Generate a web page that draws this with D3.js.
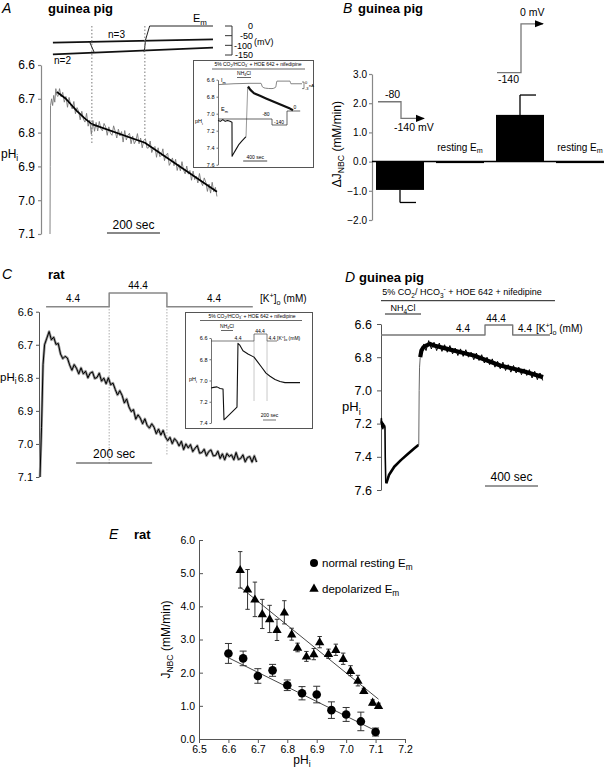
<!DOCTYPE html>
<html><head><meta charset="utf-8">
<script src="https://cdn.jsdelivr.net/npm/d3@7"></script>
<style>body{margin:0;background:#fff}svg{display:block}text{font-family:"Liberation Sans",Arial,sans-serif}</style>
</head><body><svg id="c" width="611" height="770"></svg>
<script>
// ---------------- DATA ----------------
// Panel A (guinea pig): pHi trace, time in s
const A_ticks = [6.6, 6.7, 6.8, 6.9, 7.0, 7.1];
const A_rise = [[0,7.10],[1,6.90],[2,6.72],[6,6.70],[10,6.72],[14,6.69],[18,6.71],[22,6.67],[26,6.69]];
const A_noisyStart = 30, A_noisyStep = 6;
const A_noisy = [6.693,6.670,6.694,6.681,6.710,6.693,6.725,6.696,6.719,6.730,6.708,6.744,6.726,6.737,6.762,6.737,
  6.760,6.769,6.743,6.781,6.763,6.805,6.764,6.796,6.770,6.795,6.767,6.789,6.795,6.773,6.783,6.808,6.783,6.802,6.808,
  6.780,6.796,6.816,6.790,6.810,6.797,6.828,6.794,6.822,6.808,6.802,6.833,6.810,6.833,6.824,6.803,6.833,6.816,6.845,
  6.823,6.818,6.846,6.845,6.825,6.859,6.846,6.841,6.873,6.845,6.871,6.868,6.848,6.883,6.866,6.861,6.897,6.888,6.875,
  6.898,6.879,6.912,6.894,6.913,6.886,6.911,6.922,6.899,6.923,6.912,6.941,6.914,6.939,6.929,6.949,6.921,6.946,6.957,
  6.934,6.947,6.974,6.952,6.979,6.947,6.975,6.962,6.989];
const A_fit = [[26,6.68],[60,6.70],[100,6.735],[130,6.757],[158,6.775],[358,6.83],[630,6.975]];
const A_steps = [158, 358];
const A_emUpper = [[11,-86],[615,-69]];
const A_emLower = [[11,-147],[615,-112]];
const A_emDown = [[150,-84],[168,-140]];
const A_emUp = [[355,-135],[360,-84]];
const A_emZero = [[358,-84],[376,0],[615,0]];
const A_mVticks = [0,-50,-100,-150];
// inset A
const IA_ticks = [6.6,6.8,7.0,7.2,7.4,7.6];
const IA_pH = [[0,7.08],[40,7.09],[80,7.07],[120,7.09],[160,7.08],[200,7.09],[233,7.10],[235,7.50],[250,7.48],[300,7.42],[350,7.36],[400,7.32],[467,7.27]];
const IA_jump = [[467,7.27],[495,6.69]];
const IA_after = [[500,6.68],[540,6.72],[600,6.76],[700,6.79],[800,6.82],[900,6.85],[1000,6.88],[1100,6.91],[1200,6.94],[1250,6.96]];
const IA_Em = [[0,-80],[900,-80],[900,-140],[1150,-140],[1150,0],[1370,0]];
const IA_Im = [[0,-1.2],[533,-0.6],[717,-0.6],[740,-2.2],[790,-2.8],[900,-3.0],[960,-2.4],[983,0.4],[1200,0.4],[1215,-0.8],[1400,-0.8]];

// Panel B (guinea pig) bars
const B_cats = ["-80 to -140", "resting 1", "-140 to 0", "resting 2"];
const B_vals = [-0.97, -0.02, 1.6, -0.05];
const B_err = [0.43, 0, 0.68, 0];
const B_ticks = [-2, -1, 0, 1, 2, 3];

// Panel C (rat)
const C_ticks = [6.6, 6.7, 6.8, 6.9, 7.0, 7.1];
const C_rise = [[0,7.10],[4,6.95],[8,6.76],[12,6.70],[18,6.68],[24,6.66]];
const C_noisyStart = 30, C_noisyStep = 6;
const C_noisy = [6.685,6.677,6.699,6.696,6.728,6.742,6.735,6.740,6.761,6.777,6.760,6.771,6.788,6.770,6.788,6.780,
  6.800,6.786,6.782,6.802,6.799,6.786,6.810,6.801,6.818,6.800,6.821,6.816,6.835,6.852,6.839,6.853,6.876,6.864,6.888,
  6.902,6.896,6.925,6.912,6.922,6.939,6.924,6.944,6.952,6.939,6.949,6.969,6.955,6.973,6.959,6.979,6.990,6.980,6.999,
  6.984,6.992,7.006,6.992,7.017,7.000,7.012,7.002,7.023,7.013,7.005,7.028,7.026,7.016,7.036,7.023,7.018,7.036,7.035,
  7.022,7.044,7.030,7.048,7.029,7.038,7.033,7.048,7.026,7.047,7.044,7.033,7.054,7.041,7.038,7.055,7.036,7.055];
const C_K = [[16,4.4],[182,4.4],[182,44.4],[334,44.4],[334,4.4],[560,4.4]];
const C_steps = [182, 334];
// inset C
const IC_ticks = [6.6,6.8,7.0,7.2,7.4];
const IC_pH = [[0,7.07],[40,7.065],[92,7.06],[140,7.075],[185,7.08],[200,7.37],[400,7.25],[415,6.65],[446,6.67],[492,6.72],[569,6.75],[662,6.78],[723,6.83],[785,6.88],[846,6.93],[908,6.96],[985,6.99],[1062,7.01],[1138,7.02],[1215,7.02],[1369,7.02]];
const IC_K = [[0,4.4],[662,4.4],[662,44.4],[862,44.4],[862,4.4],[1015,4.4]];

// Panel D (guinea pig)
const D_ticks = [6.6, 6.8, 7.0, 7.2, 7.4, 7.6];
const D_pre = [[0,7.20],[3,7.17],[6,7.22],[10,7.19],[14,7.23],[18,7.20],[22,7.22],[26,7.21],[30,7.22],[32,7.40],[36,7.55],[40,7.56],[60,7.51],[100,7.46],[150,7.42],[200,7.385],[250,7.35],[280,7.33],[285,7.33]];
const D_jump = [[285,7.33],[288,7.0],[291,6.86],[296,6.80]];
const D_band = [[296,6.80],[305,6.76],[320,6.74],[340,6.73],[370,6.72],[400,6.73],[500,6.75],[600,6.77],[700,6.79],[800,6.82],[900,6.85],[1000,6.87],[1100,6.89],[1223,6.92]];
const D_noisyStart = 320, D_noisyStep = 20;
const D_noisy = [6.72,6.76,6.70,6.75,6.71,6.76,6.715,6.765,6.725,6.77,6.73,6.78,6.745,6.79,6.75,6.795,6.755,6.80,6.77,
  6.815,6.775,6.82,6.785,6.835,6.80,6.845,6.81,6.86,6.825,6.87,6.83,6.88,6.845,6.89,6.85,6.895,6.86,6.905,6.87,6.91,
  6.875,6.925,6.885,6.935,6.895,6.94];
const D_K = [[0,4.4],[785,4.4],[785,44.4],[994,44.4],[994,4.4],[1275,4.4]];

// Panel E (rat)
const E_normX = [6.60,6.65,6.70,6.75,6.80,6.85,6.90,6.95,7.00,7.05,7.10];
const E_normY = [2.58,2.43,1.90,2.07,1.62,1.38,1.34,0.87,0.74,0.53,0.21];
const E_normE = [0.30,0.22,0.22,0.18,0.16,0.20,0.25,0.25,0.21,0.28,0.12];
const E_depX = [6.64,6.665,6.69,6.715,6.74,6.765,6.79,6.815,6.835,6.865,6.89,6.91,6.94,6.965,6.99,7.015,7.04,7.06,7.09,7.11];
const E_depY = [5.10,4.51,4.21,3.77,3.62,3.29,3.82,3.16,2.76,2.49,2.56,2.92,2.57,2.69,2.42,2.06,1.76,1.45,1.10,1.00];
const E_depE = [0.55,0.60,0.52,0.44,0.41,0.32,0.35,0.18,0.13,0.15,0.17,0.17,0.14,0.17,0.17,0.15,0.16,0.08,0.08,0.08];
const E_fitNorm = [[6.60,2.45],[7.10,0.25]];
const E_fitDep = [[6.64,4.58],[7.11,1.20]];
const E_xticks = [6.5,6.6,6.7,6.8,6.9,7.0,7.1,7.2];
const E_yticks = [0,1,2,3,4,5,6];

// ---------------- HELPERS ----------------
const svg = d3.select('#c');
svg.append('rect').attr('width',611).attr('height',770).attr('fill','#fff');
const f1 = d3.format('.1f');

function rich(parent, x, y, parts, size, anchor, extra) {
  const t = parent.append('text').attr('x', x).attr('y', y).attr('font-size', size)
    .attr('text-anchor', anchor || 'start').attr('fill', '#000');
  let shift = 0;
  parts.forEach(p => {
    const k = p[1];
    const target = k === 'sub' ? size * 0.28 : k === 'sup' ? -size * 0.4 : 0;
    const sp = t.append('tspan').text(p[0]).attr('dy', target - shift);
    if (k) sp.attr('font-size', size * 0.72);
    shift = target;
  });
  if (extra) extra(t);
  return t;
}
function txt(parent, x, y, s, size, anchor, weight, style) {
  return parent.append('text').attr('x', x).attr('y', y).attr('font-size', size)
    .attr('text-anchor', anchor || 'start').attr('font-weight', weight || 'normal')
    .attr('font-style', style || 'normal').attr('fill', '#000').text(s);
}
function styleAxis(g, size, color, width) {
  g.attr('font-family', null);
  g.selectAll('text').attr('font-size', size).attr('fill', '#000')
    .style('font-family', '"Liberation Sans",Arial,sans-serif');
  g.selectAll('path,line').attr('stroke', color).attr('stroke-width', width || 1);
}
function path(parent, data, line, color, w, dash) {
  const p = parent.append('path').datum(data).attr('d', line).attr('fill', 'none')
    .attr('stroke', color).attr('stroke-width', w).attr('stroke-linejoin', 'round');
  if (dash) p.attr('stroke-dasharray', dash);
  return p;
}
function seq(start, step, vals) { return vals.map((v, i) => [start + i * step, v]); }
const co2parts = [["5% CO"],["2","sub"],["/HCO"],["3","sub"],["-","sup"],[" + HOE 642 + nifedipine"]];
const kparts = [["[K"],["+","sup"],["]"],["o","sub"],[" (mM)"]];
const nh4 = [["NH"],["4","sub"],["Cl"]];

// ---------------- PANEL A ----------------
{
  const g = svg.append('g');
  txt(g, 2, 13, 'A', 14, 'start', 'normal', 'italic');
  txt(g, 48, 13, 'guinea pig', 13, 'start', 'bold');
  const x = d3.scaleLinear([0, 700], [50, 50 + 700 * 0.265]);
  const y = d3.scaleLinear([6.6, 7.1], [65, 234]);
  const ax = g.append('g').attr('transform', 'translate(41,0)')
    .call(d3.axisLeft(y).tickValues(A_ticks).tickFormat(f1).tickSize(3).tickSizeOuter(0).tickPadding(3));
  styleAxis(ax, 12, '#888', 1.2);
  rich(g, 1, 158, [["pH"],["i","sub"]], 12);
  const ln = d3.line().x(d => x(d[0])).y(d => y(d[1]));
  path(g, A_rise.concat(seq(A_noisyStart, A_noisyStep, A_noisy)), ln, '#777', 0.9);
  path(g, A_fit, ln, '#000', 1.7);
  // Em traces
  const yE = d3.scaleLinear([0, -150], [26, 55]);
  const le = d3.line().x(d => x(d[0])).y(d => yE(d[1]));
  [A_emUpper, A_emLower].forEach(d => path(g, d, le, '#111', 1.8));
  path(g, A_emDown, le, '#222', 1);
  path(g, A_emUp, le, '#222', 1);
  path(g, A_emZero, le, '#222', 1);
  rich(g, 193, 22, [["E"],["m","sub"]], 11);
  txt(g, 108, 38, 'n=3', 10);
  txt(g, 54, 64, 'n=2', 10);
  // dashed lines
  A_steps.forEach((t, i) => {
    g.append('line').attr('x1', x(t)).attr('x2', x(t)).attr('y1', 26)
      .attr('y2', i === 0 ? y(6.835) : y(6.815)).attr('stroke', '#777').attr('stroke-width', 1).attr('stroke-dasharray', '1.5,2');
  });
  // mV scale
  const sx = 232;
  g.append('line').attr('x1', sx).attr('x2', sx).attr('y1', yE(0)).attr('y2', yE(-150)).attr('stroke', '#333');
  A_mVticks.forEach(v => {
    g.append('line').attr('x1', sx - 7).attr('x2', sx).attr('y1', yE(v)).attr('y2', yE(v)).attr('stroke', '#333');
  });
  txt(g, 253, yE(0) + 3, '0', 9, 'end');
  txt(g, 253, yE(-50) + 3, '-50', 9, 'end');
  txt(g, 252, yE(-100) + 4, '-100', 9, 'end');
  txt(g, 253, yE(-150) + 3, '-150', 9, 'end');
  txt(g, 254, yE(-85) + 3, '(mV)', 9, 'start');
  // 200 sec bar
  g.append('line').attr('x1', x(215)).attr('x2', x(415)).attr('y1', 233).attr('y2', 233).attr('stroke', '#888').attr('stroke-width', 2);
  txt(g, x(315), 229, '200 sec', 12, 'middle');

  // inset A
  const gi = svg.append('g');
  gi.append('rect').attr('x', 193.5).attr('y', 60.5).attr('width', 120).attr('height', 107).attr('fill', '#fff').attr('stroke', '#555').attr('stroke-width', 1);
  rich(gi, 258, 66, co2parts, 5, 'middle');
  gi.append('line').attr('x1', 212).attr('x2', 305).attr('y1', 69).attr('y2', 69).attr('stroke', '#000').attr('stroke-width', 0.6);
  rich(gi, 244, 75, nh4, 5, 'middle');
  gi.append('line').attr('x1', 237).attr('x2', 251).attr('y1', 77.5).attr('y2', 77.5).attr('stroke', '#000').attr('stroke-width', 0.6);
  const xi = d3.scaleLinear([0, 1400], [218, 218 + 1400 * 0.06]);
  const yi = d3.scaleLinear([6.6, 7.6], [79.7, 164.7]);
  const axi = gi.append('g').attr('transform', 'translate(218,0)')
    .call(d3.axisLeft(yi).tickValues(IA_ticks).tickFormat(f1).tickSize(1.5).tickSizeOuter(0).tickPadding(2));
  styleAxis(axi, 5.5, '#333', 0.7);
  rich(gi, 195, 123, [["pH"],["i","sub"]], 5.5);
  const li = d3.line().x(d => xi(d[0])).y(d => yi(d[1]));
  path(gi, IA_pH, li, '#111', 1.1);
  path(gi, IA_jump, li, '#999', 1);
  path(gi, IA_after, li, '#111', 2.2);
  const yEm = d3.scaleLinear([0, -140], [111, 125]);
  path(gi, IA_Em, d3.line().x(d => xi(d[0])).y(d => yEm(d[1])), '#222', 0.7);
  const yIm = d3.scaleLinear([0, -3], [82, 88.6]);
  path(gi, IA_Im, d3.line().curve(d3.curveMonotoneX).x(d => xi(d[0])).y(d => yIm(d[1])), '#666', 0.8);
  rich(gi, 221, 82, [["I"],["m","sub"]], 5.5);
  rich(gi, 221, 111, [["E"],["m","sub"]], 5.5);
  txt(gi, 266, 116, '-80', 5, 'middle');
  txt(gi, 279, 123.5, '-140', 5, 'middle');
  txt(gi, 295, 109, '0', 5, 'middle');
  gi.append('path').attr('d', `M302,${yIm(0)}H304V${yIm(-3)}H302`).attr('fill', 'none').attr('stroke', '#333').attr('stroke-width', 0.6);
  txt(gi, 305, yIm(0) + 1.5, '0', 4, 'start');
  txt(gi, 305, yIm(-3) + 1.5, '-3', 4, 'start');
  txt(gi, 309, yIm(-1.5) + 1.5, 'nA', 4, 'start');
  gi.append('line').attr('x1', xi(420)).attr('x2', xi(820)).attr('y1', 161).attr('y2', 161).attr('stroke', '#444').attr('stroke-width', 1);
  txt(gi, xi(620), 158.5, '400 sec', 5, 'middle');
}

// ---------------- PANEL B ----------------
{
  const g = svg.append('g');
  txt(g, 343, 13, 'B', 14, 'start', 'normal', 'italic');
  txt(g, 358, 13, 'guinea pig', 13, 'start', 'bold');
  const x = d3.scaleBand(B_cats, [370, 610]).paddingInner(0.2).paddingOuter(0.1);
  const y = d3.scaleLinear([-2, 3], [220, 74]);
  const ax = g.append('g').attr('transform', 'translate(372,0)')
    .call(d3.axisLeft(y).tickValues(B_ticks).tickFormat(f1).tickSize(3).tickSizeOuter(0).tickPadding(2));
  styleAxis(ax, 10, '#888', 1.2);
  rich(g, 0, 0, [["ΔJ"],["NBC","sub"],[" (mM/min)"]], 12, 'middle', t => t.attr('transform', `translate(341,${y(0.6)}) rotate(-90)`));
  g.selectAll('rect.bar').data(B_vals).join('rect').attr('class', 'bar')
    .attr('x', (d, i) => x(B_cats[i])).attr('width', x.bandwidth())
    .attr('y', d => y(Math.max(0, d))).attr('height', d => Math.max(1.5, Math.abs(y(d) - y(0))))
    .attr('fill', '#000');
  g.append('line').attr('x1', 372).attr('x2', x(B_cats[3]) + x.bandwidth()).attr('y1', y(0)).attr('y2', y(0)).attr('stroke', '#000').attr('stroke-width', 1.5);
  B_vals.forEach((v, i) => {
    if (!B_err[i]) return;
    const cx = x(B_cats[i]) + x.bandwidth() / 2;
    const e = v + Math.sign(v) * B_err[i];
    g.append('line').attr('x1', cx).attr('x2', cx).attr('y1', y(v)).attr('y2', y(e)).attr('stroke', '#000').attr('stroke-width', 1.3);
    g.append('line').attr('x1', cx).attr('x2', cx + 16).attr('y1', y(e)).attr('y2', y(e)).attr('stroke', '#000').attr('stroke-width', 1.3);
  });
  [1, 3].forEach(i => {
    rich(g, x(B_cats[i]) + x.bandwidth() / 2, y(0) - 11, [["resting E"],["m","sub"]], 10, 'middle');
  });
  const b0 = x(B_cats[0]), b2 = x(B_cats[2]);
  const defs = svg.append('defs');
  defs.append('marker').attr('id', 'arr').attr('viewBox', '0 0 10 10').attr('refX', 9).attr('refY', 5)
    .attr('markerWidth', 7).attr('markerHeight', 7).attr('orient', 'auto')
    .append('path').attr('d', 'M0,1L10,5L0,9Z').attr('fill', '#000');
  g.append('path').attr('d', `M${b0 + 2},${y(2.05)}H${b0 + 25}V${y(1.48)}H${b0 + 48}`)
    .attr('fill', 'none').attr('stroke', '#777').attr('stroke-width', 1.3).attr('marker-end', 'url(#arr)');
  txt(g, b0 + 9, y(2.18), '-80', 10.5, 'start');
  txt(g, b0 + 18, y(1.06), '-140 mV', 10.5, 'start');
  g.append('path').attr('d', `M${b2 + 1},${y(3.05)}H${b2 + 25}V${y(4.72)}H${b2 + 47}`)
    .attr('fill', 'none').attr('stroke', '#777').attr('stroke-width', 1.3).attr('marker-end', 'url(#arr)');
  txt(g, b2 + 2, y(2.68), '-140', 10.5, 'start');
  txt(g, b2 + 24, y(5.0), '0 mV', 10.5, 'start');
}

// ---------------- PANEL C ----------------
{
  const g = svg.append('g');
  txt(g, 2, 279, 'C', 14, 'start', 'normal', 'italic');
  txt(g, 48, 279, 'rat', 13, 'start', 'bold');
  const x = d3.scaleLinear([0, 600], [40, 40 + 600 * 0.38]);
  const y = d3.scaleLinear([6.6, 7.1], [311.7, 477]);
  const ax = g.append('g').attr('transform', 'translate(39,0)')
    .call(d3.axisLeft(y).tickValues(C_ticks).tickFormat(f1).tickSize(3).tickSizeOuter(0).tickPadding(3));
  styleAxis(ax, 11, '#555', 1);
  rich(g, 0, 381, [["pH"],["i","sub"]], 11.5);
  const ln = d3.line().x(d => x(d[0])).y(d => y(d[1]));
  C_steps.forEach((t, i) => {
    g.append('line').attr('x1', x(t)).attr('x2', x(t)).attr('y1', 306)
      .attr('y2', i === 0 ? 464 : 455).attr('stroke', '#999').attr('stroke-width', 0.8).attr('stroke-dasharray', '1.5,1.5');
  });
  const noisy = C_rise.concat(seq(C_noisyStart, C_noisyStep, C_noisy));
  path(g, noisy, ln, '#999', 2.6);
  path(g, noisy, ln, '#000', 1);
  const yK = d3.scaleLinear([4.4, 44.4], [306.7, 293]);
  path(g, C_K, d3.line().x(d => x(d[0])).y(d => yK(d[1])), '#888', 1.5);
  txt(g, 73, 302, '4.4', 10, 'middle');
  txt(g, 138, 289, '44.4', 10, 'middle');
  txt(g, 214, 302, '4.4', 10, 'middle');
  rich(g, 260, 302, kparts, 10, 'start');
  g.append('line').attr('x1', x(95)).attr('x2', x(295)).attr('y1', 463).attr('y2', 463).attr('stroke', '#333').attr('stroke-width', 1);
  txt(g, x(195), 458, '200 sec', 12, 'middle');

  // inset C
  const gi = svg.append('g');
  gi.append('rect').attr('x', 185.5).attr('y', 312.5).attr('width', 127).attr('height', 116).attr('fill', '#fff').attr('stroke', '#555').attr('stroke-width', 1);
  rich(gi, 252, 317.5, co2parts, 5, 'middle');
  gi.append('line').attr('x1', 200).attr('x2', 302).attr('y1', 320.5).attr('y2', 320.5).attr('stroke', '#000').attr('stroke-width', 0.6);
  rich(gi, 227, 328, nh4, 5, 'middle');
  gi.append('line').attr('x1', 221).attr('x2', 233).attr('y1', 330.5).attr('y2', 330.5).attr('stroke', '#000').attr('stroke-width', 0.6);
  const xi = d3.scaleLinear([0, 1500], [211, 211 + 1500 * 0.065]);
  const yi = d3.scaleLinear([6.6, 7.4], [338, 423]);
  const axi = gi.append('g').attr('transform', 'translate(211,0)')
    .call(d3.axisLeft(yi).tickValues(IC_ticks).tickFormat(f1).tickSize(1.5).tickSizeOuter(0).tickPadding(2));
  styleAxis(axi, 5.5, '#333', 0.7);
  rich(gi, 189, 381, [["pH"],["i","sub"]], 5.5);
  [662, 862].forEach(t => gi.append('line').attr('x1', xi(t)).attr('x2', xi(t)).attr('y1', 341).attr('y2', 401).attr('stroke', '#bbb').attr('stroke-width', 0.8));
  const yKi = d3.scaleLinear([4.4, 44.4], [341, 334]);
  path(gi, IC_K, d3.line().x(d => xi(d[0])).y(d => yKi(d[1])), '#444', 0.7);
  path(gi, IC_pH, d3.line().x(d => xi(d[0])).y(d => yi(d[1])), '#111', 1.1);
  txt(gi, 238, 339.5, '4.4', 5, 'middle');
  txt(gi, 260, 332.5, '44.4', 5, 'middle');
  txt(gi, 272, 339.5, '4.4', 5, 'middle');
  rich(gi, 277, 339.5, kparts, 5, 'start');
  gi.append('line').attr('x1', xi(800)).attr('x2', xi(1000)).attr('y1', 420).attr('y2', 420).attr('stroke', '#333').attr('stroke-width', 0.7);
  txt(gi, xi(900), 417, '200 sec', 5, 'middle');
}

// ---------------- PANEL D ----------------
{
  const g = svg.append('g');
  txt(g, 345, 282, 'D', 14, 'start', 'normal', 'italic');
  txt(g, 359, 282, 'guinea pig', 13, 'start', 'bold');
  const x = d3.scaleLinear([0, 1400], [381, 381 + 1400 * 0.1325]);
  const y = d3.scaleLinear([6.6, 7.6], [324, 490]);
  const ax = g.append('g').attr('transform', 'translate(381,0)')
    .call(d3.axisLeft(y).tickValues(D_ticks).tickFormat(f1).tickSize(4).tickSizeOuter(0).tickPadding(5));
  styleAxis(ax, 12.5, '#555', 1);
  rich(g, 342, 411, [["pH"],["i","sub"]], 13);
  rich(g, 462, 295, [["5% CO"],["2","sub"],["/ HCO"],["3","sub"],["-","sup"],[" + HOE 642 + nifedipine"]], 9, 'middle');
  g.append('line').attr('x1', x(0)).attr('x2', x(1313)).attr('y1', 300.7).attr('y2', 300.7).attr('stroke', '#000').attr('stroke-width', 0.9);
  rich(g, 403, 311, nh4, 9, 'middle');
  g.append('line').attr('x1', x(30)).attr('x2', x(302)).attr('y1', 314).attr('y2', 314).attr('stroke', '#000').attr('stroke-width', 0.9);
  const yK = d3.scaleLinear([4.4, 44.4], [335, 325]);
  path(g, D_K, d3.line().x(d => x(d[0])).y(d => yK(d[1])), '#777', 1.4);
  txt(g, 463, 332, '4.4', 10, 'middle');
  txt(g, 496, 322, '44.4', 10, 'middle');
  txt(g, 525, 332, '4.4', 10, 'middle');
  rich(g, 536, 332, kparts, 10, 'start');
  const ln = d3.line().x(d => x(d[0])).y(d => y(d[1]));
  path(g, D_pre.slice(0, 12), ln, '#000', 1.6);
  path(g, D_pre.slice(11), ln, '#000', 2.6);
  path(g, D_jump, ln, '#666', 1);
  path(g, D_band, ln, '#000', 4.2);
  path(g, seq(D_noisyStart, D_noisyStep, D_noisy), ln, '#000', 1);
  g.append('line').attr('x1', x(785)).attr('x2', x(1185)).attr('y1', 486).attr('y2', 486).attr('stroke', '#333').attr('stroke-width', 1);
  txt(g, x(985), 481, '400 sec', 12, 'middle');
}

// ---------------- PANEL E ----------------
{
  const g = svg.append('g');
  txt(g, 109, 539, 'E', 14, 'start', 'normal', 'italic');
  txt(g, 134, 539, 'rat', 13, 'start', 'bold');
  const x = d3.scaleLinear([6.5, 7.2], [199, 405]);
  const y = d3.scaleLinear([0, 6], [739, 540]);
  const axx = g.append('g').attr('transform', 'translate(0,739)')
    .call(d3.axisBottom(x).tickValues(E_xticks).tickFormat(f1).tickSize(4).tickSizeOuter(0).tickPadding(3));
  styleAxis(axx, 10.5, '#555', 1);
  const axy = g.append('g').attr('transform', 'translate(199,0)')
    .call(d3.axisLeft(y).tickValues(E_yticks).tickFormat(f1).tickSize(-4).tickSizeOuter(0).tickPadding(4));
  styleAxis(axy, 10.5, '#555', 1);
  rich(g, x(6.85), 764, [["pH"],["i","sub"]], 12, 'middle');
  rich(g, 0, 0, [["J"],["NBC","sub"],[" (mM/min)"]], 12, 'middle', t => t.attr('transform', `translate(170,${y(3)}) rotate(-90)`));
  const ln = d3.line().x(d => x(d[0])).y(d => y(d[1]));
  path(g, E_fitDep, ln, '#333', 0.9);
  path(g, E_fitNorm, ln, '#333', 0.9);
  function errs(xs, ys, es, cap, w) {
    xs.forEach((xv, i) => {
      const cx = x(xv), t = y(ys[i] + es[i]), b = y(ys[i] - es[i]);
      g.append('path').attr('d', `M${cx},${t}V${b}M${cx - cap},${t}H${cx + cap}M${cx - cap},${b}H${cx + cap}`)
        .attr('stroke', '#333').attr('stroke-width', w).attr('fill', 'none');
    });
  }
  errs(E_normX, E_normY, E_normE, 3.5, 1);
  errs(E_depX, E_depY, E_depE, 2.2, 1);
  g.selectAll('circle.n').data(E_normX).join('circle').attr('class', 'n')
    .attr('cx', d => x(d)).attr('cy', (d, i) => y(E_normY[i])).attr('r', 4.3).attr('fill', '#000');
  const tri = d3.symbol(d3.symbolTriangle, 38);
  g.selectAll('path.t').data(E_depX).join('path').attr('class', 't')
    .attr('d', tri).attr('transform', (d, i) => `translate(${x(d)},${y(E_depY[i]) + 0.5})`).attr('fill', '#000');
  g.append('circle').attr('cx', 314).attr('cy', 563).attr('r', 4).attr('fill', '#000');
  rich(g, 322, 567, [["normal resting E"],["m","sub"]], 11.5);
  g.append('path').attr('d', tri).attr('transform', 'translate(314,589)').attr('fill', '#000');
  rich(g, 322, 593, [["depolarized E"],["m","sub"]], 11.5);
}
</script></body></html>
